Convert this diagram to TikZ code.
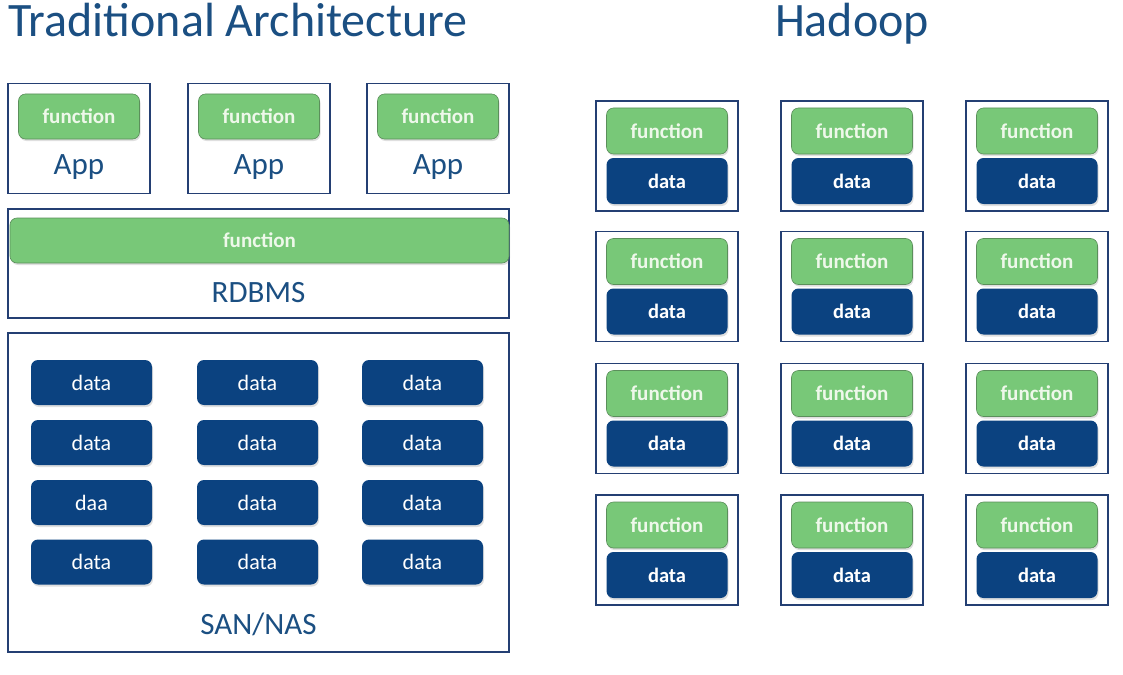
\documentclass[tikz,border=0pt]{standalone}
\usepackage{fontspec}
\setmainfont{Carlito}
\usepackage{tikz}
\usetikzlibrary{shadows}
\definecolor{titleblue}{HTML}{1B4F82}
\definecolor{boxline}{HTML}{243F73}
\definecolor{datablue}{HTML}{0B4280}
\definecolor{fungreen}{HTML}{78C878}
\definecolor{funline}{HTML}{5B8F5B}
\definecolor{funtext}{HTML}{EEF8EA}

\begin{document}
\begin{tikzpicture}[x=1pt,y=-1pt,
  frame/.style={draw=boxline,line width=1.6pt,fill=white,inner sep=0pt},
  pill/.style={rounded corners=7pt,inner sep=0pt,minimum width=121pt,minimum height=45pt,
    drop shadow={opacity=0.25,shadow xshift=1pt,shadow yshift=-2pt}},
  funbox/.style={pill,draw=funline,line width=0.6pt,fill=fungreen,text=funtext,
    font=\fontsize{21}{21}\selectfont\bfseries},
  databox/.style={pill,fill=datablue,text=white,font=\fontsize{22}{22}\selectfont},
  hdatabox/.style={databox,font=\fontsize{20.5}{20.5}\selectfont\bfseries},
  lbl/.style={text=titleblue,font=\fontsize{31}{31}\selectfont},
  head/.style={text=titleblue,font=\fontsize{48}{48}\selectfont,anchor=base}]
\useasboundingbox (0,0) rectangle (1123,674);

% titles
\node[head,anchor=base west] (tradtitle) at (5,37) {Traditional Architecture};
\node[head] (hadooptitle) at (852,37) {Hadoop};

% traditional: apps
\foreach \i/\x in {1/79,2/259,3/438}{
  \node[frame,minimum width=142pt,minimum height=110pt] (app\i) at (\x,138.5) {};
  \node[funbox] (appfun\i) at ([yshift=22pt]app\i.center) {function};
  \node[lbl] (applbl\i) at ([yshift=-29pt]app\i.center) {App};
}

% traditional: RDBMS
\node[frame,minimum width=501pt,minimum height=109pt] (rdbms) at (258.5,263.5) {};
\node[funbox,minimum width=499pt] (rdbmsfun) at (259.5,240.5) {function};
\node[lbl] (rdbmslbl) at (258.5,293) {RDBMS};

% traditional: SAN/NAS
\node[frame,minimum width=501pt,minimum height=319pt] (san) at (258.5,492.5) {};
\foreach \c/\x in {1/91.5,2/257.5,3/422.5}
  \foreach \r/\y/\first in {1/382.5/data,2/442.5/data,3/502.5/daa,4/562/data}
    \node[databox] (sandata\r\c) at (\x,\y) {\ifnum\c=1 \first\else data\fi};
\node[lbl] (sanlbl) at (258.5,624) {SAN/NAS};

% hadoop nodes
\foreach \c/\x in {1/667,2/852,3/1037}
  \foreach \r/\y in {1/156,2/286.5,3/418.5,4/550}{
    \node[frame,minimum width=142pt,minimum height=110pt] (cell\r\c) at (\x,\y) {};
    \node[funbox,minimum height=46pt] (cellfun\r\c) at ([yshift=25pt]cell\r\c.center) {function};
    \node[hdatabox,minimum height=46pt] (celldata\r\c) at ([yshift=-25pt]cell\r\c.center) {data};
  }
\end{tikzpicture}
\end{document}
